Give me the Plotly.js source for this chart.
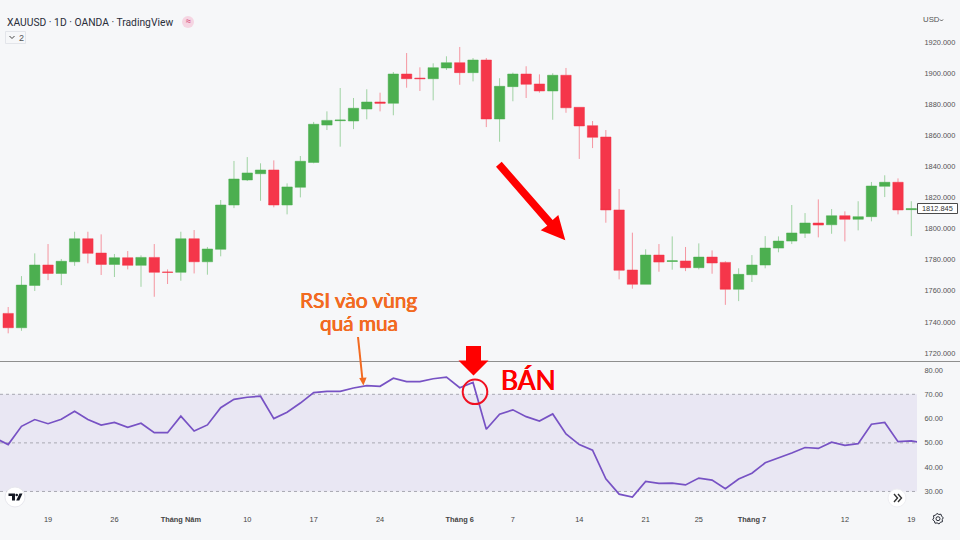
<!DOCTYPE html>
<html><head><meta charset="utf-8">
<script src="https://cdn.plot.ly/plotly-3.0.1.min.js"></script>
<style>html,body{margin:0;padding:0;background:#f6f7f9}#c{width:960px;height:540px}</style>
</head><body><div id="c"></div>
<script>
const opens=[1745.5,1736.3,1763.5,1776.6,1771.2,1778.7,1793.5,1784.3,1777,1781.3,1776.4,1781.5,1772.1,1771.9,1793.5,1778.7,1786.7,1815.2,1831.3,1835.3,1837.7,1815.2,1826.6,1842.6,1866.6,1869.4,1869.2,1876.9,1881.4,1880.6,1899.4,1896.8,1896.4,1903.3,1906.7,1900.3,1908.4,1870.5,1891.3,1899.4,1893,1888.5,1898.6,1878,1866.2,1858.9,1812,1773.4,1764.2,1783,1778.9,1779.2,1774.9,1781.7,1778.3,1761,1770.4,1776.6,1787.5,1792,1797,1803.6,1802.5,1808.3,1806,1807.7,1827.2,1829.8,1812.2];
const highs=[1749.6,1769.5,1784.1,1790.1,1780.5,1798,1798,1796.3,1783.7,1785.6,1782.8,1790.1,1773.8,1798,1799.1,1788.2,1818.4,1843.5,1846,1842,1843.9,1829.1,1846.7,1868.6,1875.4,1890.4,1884,1889.6,1887.4,1900.7,1912.9,1903.7,1906.3,1910.8,1916.8,1909.7,1909.7,1896.7,1900.3,1904.4,1899.2,1899.9,1903.3,1878,1869.2,1863.4,1825.5,1797.4,1786.7,1790.1,1795,1788.2,1790.5,1786,1779,1774.5,1783,1795.2,1795,1815.2,1810,1818.8,1812.6,1811.1,1817.6,1830,1834.3,1832.3,1817.6];
const lows=[1732.7,1734.3,1759.9,1766.9,1763.7,1776.1,1777.7,1770.2,1768.9,1773.8,1762.6,1756.2,1764.4,1766.5,1771.2,1770.4,1782.2,1813.2,1830.6,1817.9,1813.7,1809.2,1820.1,1842,1863.4,1852.7,1864,1870.3,1875.4,1872.9,1890.6,1888.5,1882.5,1902,1892.5,1894.7,1865.3,1855.9,1881.9,1884,1887.4,1870,1874.5,1844.8,1851.8,1803.8,1767.4,1761.4,1764.2,1772.3,1773.6,1772.7,1773.8,1771,1751,1753.4,1765.7,1774.5,1784.8,1790.1,1794,1794.4,1796.7,1791.8,1798.9,1804.7,1820.3,1809.2,1795.2];
const closes=[1736.3,1763.7,1776.6,1771.2,1779,1793.5,1784.1,1777,1781.3,1776.4,1781.5,1771.9,1771.9,1793.5,1778.7,1786.9,1815.2,1831.9,1835.8,1837.7,1815.2,1826.8,1843.3,1867.1,1869.6,1869.8,1877.4,1881.4,1880.6,1899.4,1896.4,1896.4,1903.5,1906.7,1900.3,1908.4,1870.5,1891.5,1899.4,1892.8,1888.5,1898.6,1877.7,1866,1858.7,1812,1773.2,1764.2,1783,1778.5,1779.3,1774.9,1781.7,1777.9,1761,1770.6,1776.6,1787.5,1792,1797.2,1803.6,1802.3,1808.3,1806,1807.7,1827.4,1829.8,1812,1812.8];
const rsi=[52,49.3,56.8,59.6,57.9,59.7,63,59.6,57.3,58.4,56.4,58.1,54.2,54.2,61,54.9,57.4,64.5,67.9,68.8,69.2,60,62.6,66.4,70.7,71.2,71.2,72.6,73.6,73.3,76.6,75.2,75.2,76.4,77.1,72.7,74.9,55.6,61.8,63.6,60.8,59,61.9,53.7,49.3,47,35.2,28.9,27.7,34.1,33.3,33.4,32.7,35.5,34.7,31.1,35.1,37.5,41.8,43.7,45.8,48.1,47.7,50.3,49,49.7,57.7,58.4,50.5,50.8,49.8];
const tickIndex=[3,8,13,18,23,28,34,38,43,48,52,56,63,68];
const tickLabels=["19","26","<b>Tháng Năm</b>","10","17","24","<b>Tháng 6</b>","7","14","21","25","<b>Tháng 7</b>","12","19"];
const priceTicks=[1720,1740,1760,1780,1800,1820,1840,1860,1880,1900,1920];
const rsiTicks=[30,40,50,60,70,80];

const W=917,H=507;
const xp=p=>p/W, yp=p=>(H-p)/H;
const poly=(pts)=>'M'+pts.map(q=>xp(q[0])+','+yp(q[1])).join('L')+'Z';
const open2=(pts)=>'M'+pts.map(q=>xp(q[0])+','+yp(q[1])).join('L');
const paper={xref:'paper',yref:'paper',layer:'above'};
const pshape=(pts,fill)=>Object.assign({type:'path',path:poly(pts),fillcolor:fill,line:{width:0}},paper);
const stroke=(pts,color,w)=>Object.assign({type:'path',path:open2(pts),line:{color,width:w}},paper);
const rect=(x0,y0,x1,y1,fill,line,w)=>Object.assign({type:'rect',x0:xp(x0),x1:xp(x1),y0:yp(y0),y1:yp(y1),fillcolor:fill,line:{color:line,width:w}},paper);
const circ=(cx,cy,r,fill,line,w)=>Object.assign({type:'circle',x0:xp(cx-r),x1:xp(cx+r),y0:yp(cy-r),y1:yp(cy+r),fillcolor:fill,line:{color:line,width:w}},paper);
const txt=(x,y,text,size,color,family,anchor,shadow)=>({x:xp(x),y:yp(y),xref:'paper',yref:'paper',text,showarrow:false,xanchor:anchor||'left',yanchor:'middle',font:Object.assign({size,color,family},shadow?{shadow}:{}),borderpad:0});
const UI='"Liberation Sans",Arial,sans-serif';
const orangeFat='0.35px 0 0 #f26a21,-0.35px 0 0 #f26a21';
const redFat='0.4px 0 0 #ff0000,-0.4px 0 0 #ff0000';

// gear outline
const gear=[];for(let k=0;k<16;k++){const a=k*Math.PI/8+Math.PI/16;const r=k%2?5.4:4.3;gear.push([938+r*Math.cos(a),518.7+r*Math.sin(a)]);}

const shapes=[
 {type:'rect',xref:'paper',yref:'y2',x0:0,x1:1,y0:30,y1:70,fillcolor:'#e9e7f3',line:{width:0},layer:'below'},
 ...[70,50,30].map(v=>({type:'line',xref:'paper',yref:'y2',x0:0,x1:1,y0:v,y1:v,line:{color:'#a9a9b2',width:1,dash:'3px,3px'},layer:'below'})),
 Object.assign({type:'line',x0:0,x1:960/W,y0:yp(361.5),y1:yp(361.5),line:{color:'#8f8f8f',width:1}},paper),
 // big diagonal arrow
 pshape([[496,166.7],[501.7,161.7],[552.7,220],[558.3,215],[565.3,240.3],[540.7,230.3],[547.3,225.7]],'#ff0000'),
 // sell arrow
 pshape([[466,346],[481,346],[481,360.5],[488.5,360.5],[473.5,375.5],[458.5,360.5],[466,360.5]],'#ff0000'),
 circ(475,391.8,12.3,'rgba(0,0,0,0)','#f01020',2),
 // orange arrow
 Object.assign({type:'line',x0:xp(358),x1:xp(362.5),y0:yp(337),y1:yp(380),line:{color:'#f26a21',width:2}},paper),
 pshape([[359.2,378],[366.6,377.4],[363.4,385.5]],'#f26a21'),
 // header widgets
 circ(188,22,6,'#f5d5e2','#f5d5e2',0),
 rect(5.5,31.5,25.5,43.5,'#f6f7f9','#e3e5ea',1),
 stroke([[9.5,36],[12,38.5],[14.5,36]],'#444',1),
 stroke([[940,19.5],[941.5,21],[943,19.5]],'#555',1),
 // price tag
 rect(917.5,203.5,957.5,213.5,'#ffffff','#4a4a4a',1),
 // logo buttons
 circ(15,497,10,'#ffffff','#e8e8ee',1),
 pshape([[8.5,493.5],[15,493.5],[15,500.5],[12,500.5],[12,496],[8.5,496]],'#131722'),
 circ(16.7,495,1.3,'#131722','#131722',0),
 pshape([[19.5,493.5],[22.5,493.5],[19.3,500.5],[16.2,500.5]],'#131722'),
 circ(897,498,9,'#ffffff','#eeeef2',1),
 stroke([[894,494],[897.5,498],[894,502]],'#333',1.4),
 stroke([[898,494],[901.5,498],[898,502]],'#333',1.4),
 Object.assign({type:'path',path:poly(gear),fillcolor:'rgba(0,0,0,0)',line:{color:'#2a2e39',width:1}},paper),
 circ(938,518.7,2,'rgba(0,0,0,0)','#2a2e39',1)
];

const annotations=[
 txt(6,22,'XAUUSD · 1D · OANDA · TradingView',10.3,'#2a2e39','Roboto'),
 txt(188,21.5,'≈',9,'#d02060',UI,'center'),
 txt(18,37.5,'2',9,'#555',UI),
 txt(922.5,20,'USD',7.8,'#555',UI),
 txt(938,208.5,'1812.845',7.4,'#333',UI,'center'),
 txt(358.5,299.5,'RSI vào vùng',20.8,'#f26a21','Lato','center',orangeFat),
 txt(358.5,322,'quá mua',20.8,'#f26a21','Lato','center',orangeFat),
 txt(499.5,380,'BÁN',26.3,'#ff0000','Lato','left',redFat)
];

const data=[
 {type:'candlestick',x:opens.map((_,i)=>i),open:opens,high:highs,low:lows,close:closes,xaxis:'x',yaxis:'y',whiskerwidth:0,
  increasing:{line:{color:'rgba(76,175,80,0.5)',width:1},fillcolor:'#4caf50'},
  decreasing:{line:{color:'rgba(245,54,74,0.5)',width:1},fillcolor:'#f5364a'},hoverinfo:'skip',showlegend:false},
 {type:'scatter',mode:'lines',x:rsi.map((_,i)=>i-1),y:rsi,xaxis:'x',yaxis:'y2',line:{color:'#7752c4',width:1.7},hoverinfo:'skip',showlegend:false}
];
const tick={family:UI,size:7.4,color:'#555'};
const layout={
 width:960,height:540,margin:{l:0,r:960-W,t:0,b:540-H,pad:0},
 paper_bgcolor:'#f6f7f9',plot_bgcolor:'#f6f7f9',showlegend:false,boxgap:0.22,boxgroupgap:0,
 xaxis:{domain:[0,1],anchor:'y2',type:'linear',range:[-0.617,68.43],rangeslider:{visible:false},tickmode:'array',tickvals:tickIndex,ticktext:tickLabels,
   showgrid:false,zeroline:false,showline:false,ticks:'outside',ticklen:5,tickcolor:'rgba(0,0,0,0)',tickfont:{family:UI,size:7.4,color:'#444'}},
 yaxis:{domain:[(H-361)/H,1],side:'right',anchor:'x',range:[1714.9,1947],tickmode:'array',tickvals:priceTicks,tickformat:'.3f',showgrid:false,zeroline:false,showline:false,ticks:'outside',ticklen:5,tickcolor:'rgba(0,0,0,0)',tickfont:tick},
 yaxis2:{domain:[0,(H-362)/H],side:'right',anchor:'x',range:[23.6,83.3],tickmode:'array',tickvals:rsiTicks,tickformat:'.2f',showgrid:false,zeroline:false,showline:false,ticks:'outside',ticklen:5,tickcolor:'rgba(0,0,0,0)',tickfont:tick},
 shapes,annotations
};
Plotly.newPlot('c',data,layout,{staticPlot:true,displayModeBar:false});
</script></body></html>
